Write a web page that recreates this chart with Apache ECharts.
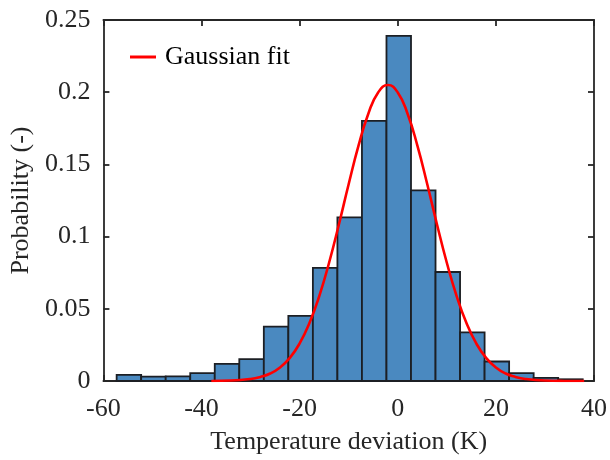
<!DOCTYPE html>
<html>
<head>
<meta charset="utf-8">
<script src="https://cdn.jsdelivr.net/npm/echarts@6/dist/echarts.min.js"></script>
<style>html,body{margin:0;padding:0;background:#fff;}#c{width:610px;height:460px;}</style>
</head>
<body>
<div id="c"></div>
<script>
// Histogram bin edges (K) and probabilities
var binEdges = [-57.3, -52.3, -47.3, -42.3, -37.3, -32.3, -27.3, -22.3, -17.3, -12.3, -7.3, -2.3, 2.7, 7.7, 12.7, 17.7, 22.7, 27.7, 32.7, 37.7];
var probs = [0.0043, 0.0030, 0.0032, 0.0055, 0.0119, 0.0151, 0.0376, 0.0451, 0.0783, 0.1133, 0.1802, 0.2390, 0.1320, 0.0755, 0.0337, 0.0135, 0.0055, 0.0022, 0.0012];
// Gaussian fit curve
var fitX = [-38, -34, -30, -28, -26, -24, -22, -20, -18, -16, -14, -12, -10, -8, -6, -4, -2, 0, 2, 4, 6, 8, 10, 12, 14, 16, 18, 20, 22, 24, 26, 30, 34, 38];
var fitY = [0.00005, 0.0003, 0.0014, 0.0028, 0.0052, 0.0094, 0.0160, 0.0260, 0.0401, 0.0588, 0.0819, 0.1084, 0.1364, 0.1630, 0.1851, 0.1998, 0.2050, 0.1998, 0.1851, 0.1630, 0.1364, 0.1084, 0.0819, 0.0588, 0.0401, 0.0260, 0.0160, 0.0094, 0.0052, 0.0028, 0.0014, 0.0003, 0.00005, 0.0];
var xTicks = [-60, -40, -20, 0, 20, 40];
var yTickLabels = ['0', '0.05', '0.1', '0.15', '0.2', '0.25'];

var histData = probs.map(function (p, i) { return [binEdges[i], binEdges[i + 1], p]; });
var fitData = fitX.map(function (x, i) { return [x, fitY[i]]; });

var FONT = 'Liberation Serif';
var AX = '#262626';
var chart = echarts.init(document.getElementById('c'), null, {renderer: 'canvas'});
var axisCommon = {
  axisLine: {show: true, onZero: false, lineStyle: {color: AX, width: 1.8}},
  axisTick: {show: true, inside: true, length: 6, lineStyle: {color: AX, width: 1.8}},
  splitLine: {show: false}
};
chart.setOption({
  animation: false,
  backgroundColor: '#fff',
  grid: {left: 101, right: 13, top: 20, bottom: 76, containLabel: false},
  legend: {
    data: ['Gaussian fit'], left: 125, top: 39, icon: 'rect', itemWidth: 26, itemHeight: 3,
    itemGap: 10,
    textStyle: {fontFamily: FONT, fontSize: 26, color: '#000', padding: [0, 0, 0, 4]}
  },
  xAxis: [
    Object.assign({
      type: 'value', min: -60, max: 40, interval: 20, position: 'bottom',
      name: 'Temperature deviation (K)', nameLocation: 'middle', nameGap: 48,
      nameTextStyle: {fontFamily: FONT, fontSize: 26, color: '#262626'},
      axisLabel: {fontFamily: FONT, fontSize: 26, color: '#262626', margin: 15,
        formatter: function (v) { return xTicks.indexOf(v) >= 0 ? String(v) : ''; }}
    }, axisCommon),
    Object.assign({
      type: 'value', min: -60, max: 40, interval: 20, position: 'top',
      axisLabel: {show: false}
    }, axisCommon)
  ],
  yAxis: [
    Object.assign({
      type: 'value', min: 0, max: 0.25, interval: 0.05, position: 'left',
      name: 'Probability (-)', nameLocation: 'middle', nameGap: 69, nameRotate: 90,
      nameTextStyle: {fontFamily: FONT, fontSize: 26, color: '#262626'},
      axisLabel: {fontFamily: FONT, fontSize: 26, color: '#262626', margin: 13,
        formatter: function (v) { return yTickLabels[Math.round(v / 0.05)]; }}
    }, axisCommon),
    Object.assign({
      type: 'value', min: 0, max: 0.25, interval: 0.05, position: 'right',
      axisLabel: {show: false}
    }, axisCommon)
  ],
  series: [
    {
      type: 'custom', name: 'hist', xAxisIndex: 0, yAxisIndex: 0,
      data: histData,
      encode: {x: [0, 1], y: 2},
      renderItem: function (params, api) {
        var p0 = api.coord([api.value(0), api.value(2)]);
        var p1 = api.coord([api.value(1), 0]);
        return {
          type: 'rect',
          shape: {x: p0[0], y: p0[1], width: p1[0] - p0[0], height: p1[1] - p0[1]},
          style: {fill: '#4a89c0', stroke: '#1c1f24', lineWidth: 1.8}
        };
      },
      z: 2
    },
    {
      type: 'line', name: 'Gaussian fit', xAxisIndex: 0, yAxisIndex: 0,
      data: fitData, smooth: true, showSymbol: false, symbol: 'none',
      lineStyle: {color: '#ff0000', width: 2.6}, itemStyle: {color: '#ff0000'},
      z: 3
    }
  ]
});
</script>
</body>
</html>
